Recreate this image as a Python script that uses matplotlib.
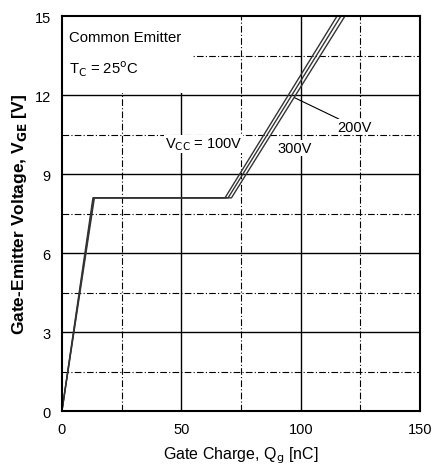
import numpy as np
import matplotlib.pyplot as plt
from matplotlib.patches import Rectangle

plt.rcParams['font.family'] = ['Liberation Sans', 'DejaVu Sans']

# gate charge curves (Qg in nC, Vge in V)
qg_100 = [0, 13.0, 68.3, 115.2]
qg_200 = [0, 13.3, 69.6, 116.8]
qg_300 = [0, 13.6, 71.0, 118.5]
vge = [0, 8.1, 8.1, 15.0]

x_ticks = [0, 50, 100, 150]
y_ticks = [0, 3, 6, 9, 12, 15]
x_minor = [25, 75, 125]
y_minor = [1.5, 4.5, 7.5, 10.5, 13.5]

fig = plt.figure(figsize=(4.39, 4.77), dpi=100)
ax = fig.add_axes([0.141, 0.136, 0.816, 0.828])

for v in x_ticks[1:-1]:
    ax.axvline(v, color='black', lw=1.0, zorder=1)
for v in y_ticks[1:-1]:
    ax.axhline(v, color='black', lw=1.0, zorder=1)
for v in x_minor:
    ax.axvline(v, color='black', lw=0.8, ls=(0, (6, 2, 1, 2)), zorder=1)
for v in y_minor:
    ax.axhline(v, color='black', lw=0.8, ls=(0, (6, 2, 1, 2)), zorder=1)

# blank area behind the condition text
ax.add_patch(Rectangle((0, 12.1), 55, 3, fc='white', ec='none', zorder=2))

for q in (qg_100, qg_200, qg_300):
    ax.plot(q, vge, color='#333333', lw=1.0, zorder=3)

ax.set_xlim(0, 150)
ax.set_ylim(0, 15)
ax.set_xticks(x_ticks)
ax.set_yticks(y_ticks)
ax.tick_params(length=0, labelsize=10.5, pad=8)
for s in ax.spines.values():
    s.set_linewidth(1.5)
    s.set_zorder(4)

ax.text(3, 14.2, 'Common Emitter', fontsize=10.7, va='center', zorder=5)
ax.text(3, 13.0, r'T$_\mathrm{C}$ = 25$^\mathrm{o}$C', fontsize=10.7, va='center', zorder=5)
ax.text(43, 10.15, r'V$_\mathrm{CC}$ = 100V', fontsize=10.5, va='center',
        bbox=dict(fc='white', ec='none', pad=0.5))
ax.text(97.6, 10.0, '300V', fontsize=10.5, ha='center', va='center',
        bbox=dict(fc='white', ec='none', pad=0.5))
ax.annotate('200V', xy=(97.5, 11.9), xytext=(115.5, 10.8), fontsize=10.5, va='center',
            arrowprops=dict(arrowstyle='-', color='black', lw=0.8,
                            shrinkA=0, shrinkB=0),
            bbox=dict(fc='white', ec='none', pad=0.5))

ax.set_xlabel(r'Gate Charge, Q$_\mathrm{g}$ [nC]', fontsize=11.5, labelpad=6)
ax.set_ylabel(r'Gate-Emitter Voltage, V$_\mathbf{GE}$ [V]', fontsize=12.5,
              fontweight='bold', labelpad=4)

fig.savefig('out.png', dpi=100)
